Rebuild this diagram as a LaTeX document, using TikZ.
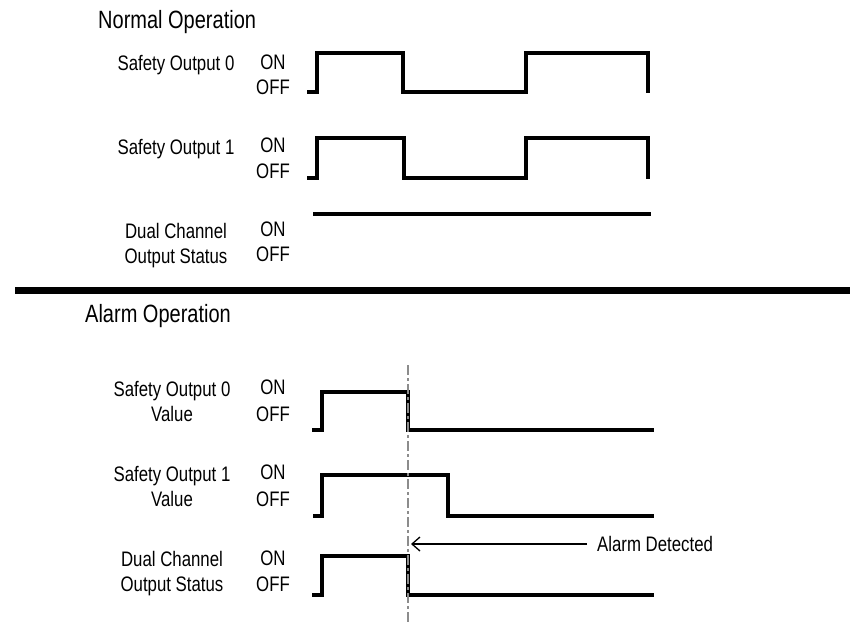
\documentclass[tikz,border=0pt]{standalone}
\usepackage{fontspec}
\setmainfont{Liberation Sans}[FakeStretch=0.8]
\usetikzlibrary{arrows.meta}
\definecolor{mk}{RGB}{140,140,140}
\begin{document}
\begin{tikzpicture}[x=1pt,y=-1pt,
  sig/.style={line width=3.3pt, line join=miter, line cap=butt},
  lbl/.style={font=\fontsize{21}{25}\selectfont, inner sep=0pt, anchor=base, align=center},
  st/.style={font=\fontsize{21}{25}\selectfont, inner sep=0pt, anchor=base},
  ttl/.style={font=\fontsize{25}{30}\selectfont, inner sep=0pt, anchor=base west},
  marker/.style={draw=mk, line width=2pt, dash pattern=on 10pt off 3pt on 3pt off 3pt},
  pointer/.style={-{Straight Barb[length=8pt,width=14pt]}, line width=1.3pt}]
\fill[white] (0,0) rectangle (850,622);
\useasboundingbox (0,0) rectangle (850,622);

% ---------- Normal operation ----------
\node[ttl] (tn) at (98,28) {Normal Operation};

\node[lbl] (n0) at (176,70.5) {Safety Output 0};
\node[st] (n0on) at (273,69) {ON};
\node[st] (n0off) at (273,94) {OFF};
\draw[sig] (307,92) -| (317,53) -| (403,92) -| (526,53) -| (648,93);

\node[lbl] (n1) at (176,154.3) {Safety Output 1};
\node[st] (n1on) at (273,152.7) {ON};
\node[st] (n1off) at (273,178.3) {OFF};
\draw[sig] (307,178) -| (317,138) -| (404,178) -| (526,138) -| (648,179);

\node[lbl] (n2) at (176,263.5) {Dual Channel\\Output Status};
\node[st] (n2on) at (273,236) {ON};
\node[st] (n2off) at (273,261.7) {OFF};
\draw[sig] (313,214) -- (651,214);

% separator
\draw[line width=7pt] (15,290) -- (850,290);

% ---------- Alarm operation ----------
\node[ttl] (ta) at (85,322) {Alarm Operation};

\node[lbl] (a0) at (172,421.7) {Safety Output 0\\Value};
\node[st] (a0on) at (273,394.3) {ON};
\node[st] (a0off) at (273,421.7) {OFF};
\draw[sig] (312,430) -| (322,392) -| (408,430) -- (654,430);

\node[lbl] (a1) at (172,506.7) {Safety Output 1\\Value};
\node[st] (a1on) at (273,479.3) {ON};
\node[st] (a1off) at (273,506.7) {OFF};
\draw[sig] (313,516) -| (322,475) -| (448,516) -- (654,516);

\node[lbl] (a2) at (172,591.7) {Dual Channel\\Output Status};
\node[st] (a2on) at (273,565) {ON};
\node[st] (a2off) at (273,591) {OFF};
\draw[sig] (312,595) -| (322,556) -| (408,595) -- (654,595);

% alarm marker line
\coordinate (mtop) at (408,365);
\coordinate (mbot) at (408,622);
\draw[marker] (mtop) -- (mbot);

% alarm detected pointer
\node[st, anchor=west] (ad) at (597,544) {Alarm Detected};
\coordinate (det) at (411,544);
\draw[pointer, shorten <=10pt] (ad.west) -- (det);
\end{tikzpicture}
\end{document}
